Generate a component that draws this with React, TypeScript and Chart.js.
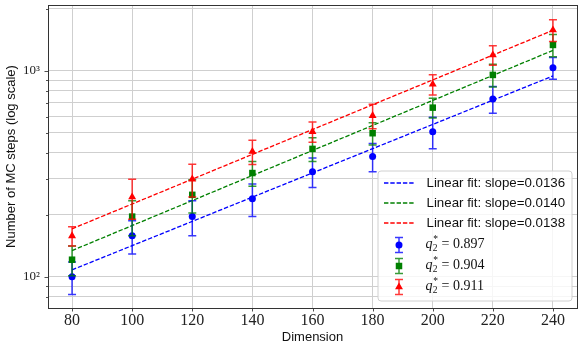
import { useEffect, useRef } from "react";
import { Chart, registerables } from "chart.js";

Chart.register(...registerables);

// ---- data ----
const dims = [80, 100, 120, 140, 160, 180, 200, 220, 240];
const blueVals = [100, 158, 196, 239, 324, 384, 507, 731, 1036];
const blueErr = [18, 29, 38, 43, 53, 60, 88, 108, 126];
const greenVals = [121, 196, 250, 319, 418, 498, 663, 956, 1337];
const greenErr = [20, 38, 46, 44, 55, 62, 73, 120, 165];
const redVals = [158, 244, 298, 406, 507, 606, 861, 1195, 1580];
const redErr = [17, 54, 54, 55, 57, 83, 97, 130, 190];

const fitX = [80, 240];
const blueFit = [108, 945];
const greenFit = [134, 1258];
const redFit = [171, 1575];

const xTicks = [80, 100, 120, 140, 160, 180, 200, 220, 240];
const yTicks = [80, 90, 100, 200, 300, 400, 500, 600, 700, 800, 900, 1000, 2000];
const yMajorLabels: Record<number, string> = { 100: "10²", 1000: "10³" };

const fitLabels = [
  "Linear fit: slope=0.0136",
  "Linear fit: slope=0.0140",
  "Linear fit: slope=0.0138",
];
const qValues = ["0.897", "0.904", "0.911"];

const BLUE = "#0000ff";
const GREEN = "#008000";
const RED = "#ff0000";
const BLUE_E = "rgba(0,0,255,0.78)";
const GREEN_E = "rgba(0,128,0,0.78)";
const RED_E = "rgba(255,0,0,0.78)";
const DASH = [4.4, 1.9];

const pts = (xs: number[], ys: number[]) => xs.map((x, i) => ({ x, y: ys[i] }));

function drawErrBar(ctx: CanvasRenderingContext2D, x: number, yTop: number, yBot: number, color: string) {
  ctx.save();
  ctx.strokeStyle = color;
  ctx.lineWidth = 1.5;
  ctx.beginPath();
  ctx.moveTo(x, yTop);
  ctx.lineTo(x, yBot);
  ctx.moveTo(x - 4, yTop);
  ctx.lineTo(x + 4, yTop);
  ctx.moveTo(x - 4, yBot);
  ctx.lineTo(x + 4, yBot);
  ctx.stroke();
  ctx.restore();
}

const errorBarPlugin = {
  id: "errbars",
  beforeDatasetDraw(chart: any, args: any) {
    const ds = chart.data.datasets[args.index];
    if (!ds.errors) return;
    const ctx = chart.ctx;
    const xs = chart.scales.x;
    const ys = chart.scales.y;
    ds.data.forEach((p: any, i: number) => {
      const e = ds.errors[i];
      const px = xs.getPixelForValue(p.x);
      const top = ys.getPixelForValue(p.y + e);
      const bot = ys.getPixelForValue(p.y - e);
      drawErrBar(ctx, px, top, bot, ds.errColor);
    });
  },
};

const framePlugin = {
  id: "frame",
  afterDraw(chart: any) {
    const ctx: CanvasRenderingContext2D = chart.ctx;
    const a = chart.chartArea;
    const xs = chart.scales.x;
    const ys = chart.scales.y;
    ctx.save();
    // ticks
    ctx.strokeStyle = "#222";
    ctx.lineWidth = 0.8;
    ctx.beginPath();
    xTicks.forEach((t) => {
      const px = Math.round(xs.getPixelForValue(t)) + 0.5;
      ctx.moveTo(px, a.bottom);
      ctx.lineTo(px, a.bottom + 3.5);
    });
    yTicks.forEach((t) => {
      const py = Math.round(ys.getPixelForValue(t)) + 0.5;
      const len = yMajorLabels[t] ? 3.5 : 2;
      ctx.moveTo(a.left, py);
      ctx.lineTo(a.left - len, py);
    });
    ctx.stroke();
    // spines
    ctx.strokeStyle = "#333";
    ctx.lineWidth = 1;
    ctx.strokeRect(Math.round(a.left) + 0.5, Math.round(a.top) + 0.5, Math.round(a.right - a.left), Math.round(a.bottom - a.top));

    // legend
    const x0 = a.right - 199;
    const y0 = a.bottom - 137;
    const w = 194;
    const h = 130;
    const r = 3;
    ctx.beginPath();
    ctx.moveTo(x0 + r, y0);
    ctx.lineTo(x0 + w - r, y0);
    ctx.quadraticCurveTo(x0 + w, y0, x0 + w, y0 + r);
    ctx.lineTo(x0 + w, y0 + h - r);
    ctx.quadraticCurveTo(x0 + w, y0 + h, x0 + w - r, y0 + h);
    ctx.lineTo(x0 + r, y0 + h);
    ctx.quadraticCurveTo(x0, y0 + h, x0, y0 + h - r);
    ctx.lineTo(x0, y0 + r);
    ctx.quadraticCurveTo(x0, y0, x0 + r, y0);
    ctx.closePath();
    ctx.fillStyle = "rgba(255,255,255,0.8)";
    ctx.fill();
    ctx.strokeStyle = "#d0d0d0";
    ctx.lineWidth = 1;
    ctx.stroke();

    const lineColors = [BLUE, GREEN, RED];
    const errColors = [BLUE_E, GREEN_E, RED_E];
    const hx0 = x0 + 6;
    const hx1 = x0 + 36;
    const hc = (hx0 + hx1) / 2;
    const tx = x0 + 48.5;
    ctx.textBaseline = "middle";
    ctx.textAlign = "left";
    for (let i = 0; i < 3; i++) {
      const yy = y0 + 12 + i * 20;
      ctx.save();
      ctx.strokeStyle = lineColors[i];
      ctx.lineWidth = 1.3;
      ctx.setLineDash(DASH);
      ctx.beginPath();
      ctx.moveTo(hx0, yy);
      ctx.lineTo(hx1, yy);
      ctx.stroke();
      ctx.restore();
      ctx.fillStyle = "#111";
      ctx.font = "13.3px 'Liberation Sans', sans-serif";
      ctx.fillText(fitLabels[i], tx, yy);
    }
    const styles = ["circle", "rect", "triangle"];
    for (let i = 0; i < 3; i++) {
      const yy = y0 + 74 + i * 21;
      drawErrBar(ctx, hc, yy - 7.5, yy + 7.5, errColors[i]);
      ctx.fillStyle = lineColors[i];
      const rad = styles[i] === "circle" ? 3.5 : 4.6;
      ctx.beginPath();
      if (styles[i] === "circle") {
        ctx.arc(hc, yy, rad, 0, Math.PI * 2);
      } else if (styles[i] === "rect") {
        const s = rad * Math.SQRT1_2;
        ctx.rect(hc - s, yy - s, 2 * s, 2 * s);
      } else {
        ctx.moveTo(hc, yy - rad);
        ctx.lineTo(hc + rad * 0.866, yy + rad * 0.5);
        ctx.lineTo(hc - rad * 0.866, yy + rad * 0.5);
        ctx.closePath();
      }
      ctx.fill();
      // q_2^* = value
      ctx.fillStyle = "#111";
      let cx = tx - 1;
      ctx.font = "italic 14px 'Liberation Serif', serif";
      ctx.fillText("q", cx, yy - 1);
      cx += ctx.measureText("q").width + 0.3;
      ctx.font = "9.5px 'Liberation Serif', serif";
      ctx.fillText("2", cx, yy + 3.5);
      ctx.fillText("*", cx + 0.5, yy - 6);
      cx += ctx.measureText("2").width + 4;
      ctx.font = "14px 'Liberation Serif', serif";
      ctx.fillText("= " + qValues[i], cx, yy - 1);
    }
    ctx.restore();
  },
};

export default function App() {
  const ref = useRef<HTMLCanvasElement | null>(null);
  useEffect(() => {
    if (!ref.current) return;
    const chart = new Chart(ref.current, {
      type: "line",
      data: {
        datasets: [
          {
            label: "q2* = 0.911",
            data: pts(dims, redVals),
            showLine: false,
            pointStyle: "triangle",
            pointRadius: 4.6,
            backgroundColor: RED,
            borderColor: RED,
            borderWidth: 0,
            order: 1,
            errors: redErr,
            errColor: RED_E,
          } as any,
          {
            label: "q2* = 0.904",
            data: pts(dims, greenVals),
            showLine: false,
            pointStyle: "rect",
            pointRadius: 4.6,
            backgroundColor: GREEN,
            borderColor: GREEN,
            borderWidth: 0,
            order: 2,
            errors: greenErr,
            errColor: GREEN_E,
          } as any,
          {
            label: "q2* = 0.897",
            data: pts(dims, blueVals),
            showLine: false,
            pointStyle: "circle",
            pointRadius: 3.5,
            backgroundColor: BLUE,
            borderColor: BLUE,
            borderWidth: 0,
            order: 3,
            errors: blueErr,
            errColor: BLUE_E,
          } as any,
          {
            label: fitLabels[2],
            data: pts(fitX, redFit),
            borderColor: RED,
            borderWidth: 1.3,
            borderDash: DASH,
            pointRadius: 0,
            order: 4,
          },
          {
            label: fitLabels[1],
            data: pts(fitX, greenFit),
            borderColor: GREEN,
            borderWidth: 1.3,
            borderDash: DASH,
            pointRadius: 0,
            order: 5,
          },
          {
            label: fitLabels[0],
            data: pts(fitX, blueFit),
            borderColor: BLUE,
            borderWidth: 1.3,
            borderDash: DASH,
            pointRadius: 0,
            order: 6,
          },
        ],
      },
      options: {
        animation: false,
        responsive: true,
        maintainAspectRatio: false,
        layout: { padding: { left: 0, right: 9, top: 5, bottom: 0 } },
        plugins: { legend: { display: false }, tooltip: { enabled: false } },
        scales: {
          x: {
            type: "linear",
            min: 72,
            max: 248,
            afterBuildTicks: (s: any) => {
              s.ticks = xTicks.map((v) => ({ value: v }));
            },
            afterFit: (s: any) => {
              s.height = 42;
              s.paddingLeft = 0;
              s.paddingRight = 0;
            },
            grid: { color: "#cfcfcf", lineWidth: 1, drawTicks: true, tickLength: 3, tickColor: "rgba(0,0,0,0)" },
            border: { display: false },
            ticks: {
              color: "#222",
              padding: 0,
              maxRotation: 0,
              font: { family: "'Liberation Serif', serif", size: 16 },
              callback: (v: any) => String(v),
            },
            title: {
              display: true,
              text: "Dimension",
              color: "#111",
              font: { family: "'Liberation Sans', sans-serif", size: 13 },
              padding: { top: 0, bottom: 5 },
            },
          },
          y: {
            type: "logarithmic",
            min: 70.5,
            max: 2090,
            afterBuildTicks: (s: any) => {
              s.ticks = yTicks.map((v) => ({ value: v, major: !!yMajorLabels[v] }));
            },
            afterFit: (s: any) => {
              s.width = 48;
              s.paddingTop = 0;
              s.paddingBottom = 0;
            },
            grid: { color: "#cfcfcf", lineWidth: 1, drawTicks: true, tickLength: 4, tickColor: "rgba(0,0,0,0)" },
            border: { display: false },
            ticks: {
              color: "#222",
              padding: 4,
              autoSkip: false,
              font: { family: "'Liberation Serif', serif", size: 13 },
              callback: (v: any) => yMajorLabels[Number(v)] ?? "",
            },
            title: {
              display: true,
              text: "Number of MC steps (log scale)",
              color: "#111",
              font: { family: "'Liberation Sans', sans-serif", size: 13 },
              padding: { top: 4, bottom: 0 },
            },
          },
        },
      },
      plugins: [errorBarPlugin, framePlugin],
    });
    return () => chart.destroy();
  }, []);
  return (
    <div style={{ position: "absolute", left: 0, top: 0, width: 586, height: 350 }}>
      <canvas ref={ref} />
    </div>
  );
}
